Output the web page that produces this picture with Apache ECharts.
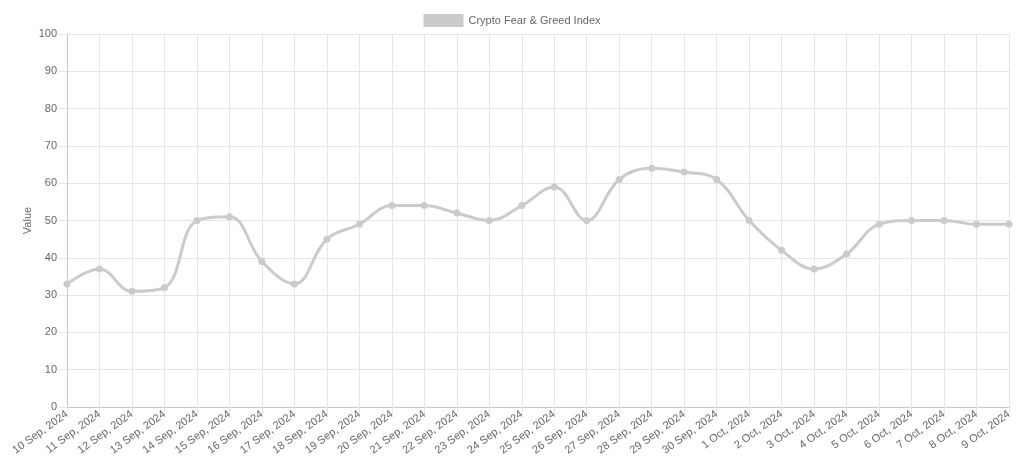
<!DOCTYPE html>
<html><head><meta charset="utf-8">
<script src="https://cdn.jsdelivr.net/npm/echarts@6/dist/echarts.min.js"></script>
<style>html,body{margin:0;padding:0;background:#fff}#c{width:1024px;height:473px}</style>
</head><body><div id="c"></div>
<script>
const categories = ["10 Sep, 2024","11 Sep, 2024","12 Sep, 2024","13 Sep, 2024","14 Sep, 2024","15 Sep, 2024","16 Sep, 2024","17 Sep, 2024","18 Sep, 2024","19 Sep, 2024","20 Sep, 2024","21 Sep, 2024","22 Sep, 2024","23 Sep, 2024","24 Sep, 2024","25 Sep, 2024","26 Sep, 2024","27 Sep, 2024","28 Sep, 2024","29 Sep, 2024","30 Sep, 2024","1 Oct, 2024","2 Oct, 2024","3 Oct, 2024","4 Oct, 2024","5 Oct, 2024","6 Oct, 2024","7 Oct, 2024","8 Oct, 2024","9 Oct, 2024"];
const fearGreed = [33,37,31,32,50,51,39,33,45,49,54,54,52,50,54,59,50,61,64,63,61,50,42,37,41,49,50,50,49,49];
const seriesName = "Crypto Fear & Greed Index";
const yName = "Value";

const chart = echarts.init(document.getElementById('c'), null, {renderer:'canvas'});
const font = 'Helvetica, Arial, "Liberation Sans", sans-serif';
chart.setOption({
  animation:false,
  legend:{top:9, left:'center', itemWidth:40, itemHeight:13, itemGap:5, icon:'rect',
    textStyle:{color:'#666', fontSize:11, fontFamily:font},
    data:[{name:seriesName, icon:'rect', itemStyle:{color:'#cbcbcb'}}]},
  grid:{left:67, right:15, top:34, bottom:66},
  xAxis:{type:'category', data:categories, boundaryGap:false,
    axisLine:{lineStyle:{color:'#c8c8c8'}},
    axisTick:{show:true, length:6, lineStyle:{color:'#e5e5e5'}},
    splitLine:{show:true, lineStyle:{color:'#e5e5e5'}},
    axisLabel:{rotate:36, color:'#666', fontSize:11, fontFamily:font, margin:6, interval:0}},
  yAxis:{type:'value', min:0, max:100, interval:10, name:yName, nameLocation:'middle', nameGap:34,
    nameMoveOverlap:false,
    nameTextStyle:{color:'#666', fontSize:11, fontFamily:font},
    axisLine:{show:true, lineStyle:{color:'#c8c8c8'}},
    axisTick:{show:true, length:8, lineStyle:{color:'#e5e5e5'}},
    splitLine:{show:true, lineStyle:{color:'#e5e5e5'}},
    axisLabel:{color:'#666', fontSize:11, fontFamily:font, margin:10}},
  series:[{name:seriesName, type:'line', data:fearGreed, smooth:0.4,
    symbol:'circle', symbolSize:7,
    lineStyle:{color:'#cbcbcb', width:3},
    itemStyle:{color:'#cbcbcb'}}]
});
</script></body></html>
